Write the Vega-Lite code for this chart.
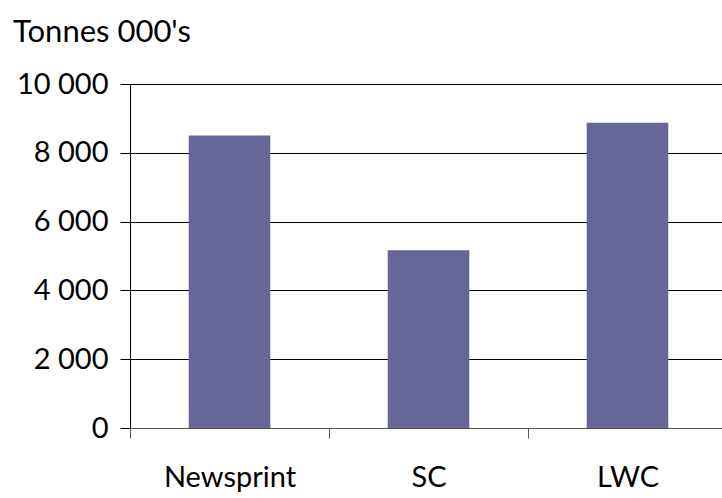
{
  "$schema": "https://vega.github.io/schema/vega-lite/v6.json",
  "autosize": {"type": "none"},
  "width": 592,
  "height": 344,
  "padding": {"left": 130, "top": 84, "right": 0, "bottom": 70},
  "background": "white",
  "title": {
    "text": "Tonnes 000's",
    "anchor": "start",
    "frame": "group",
    "dx": -117,
    "offset": 21,
    "font": "Lato",
    "fontSize": 31,
    "fontWeight": "normal",
    "color": "black"
  },
  "data": {
    "values": [
      {"grade": "Newsprint", "tonnes": 8500},
      {"grade": "SC", "tonnes": 5170},
      {"grade": "LWC", "tonnes": 8875}
    ]
  },
  "mark": {"type": "bar", "color": "#666699", "width": {"band": 0.41}},
  "encoding": {
    "x": {
      "field": "grade",
      "type": "nominal",
      "sort": null,
      "scale": {"range": [0, 597], "paddingInner": 0, "paddingOuter": 0},
      "axis": {
        "title": null,
        "labelAngle": 0,
        "labelFont": "Lato",
        "labelFontSize": 29,
        "labelColor": "black",
        "labelPadding": 25,
        "domainColor": "#555555",
        "domainWidth": 1,
        "tickColor": "#555555",
        "tickSize": 10,
        "tickBand": "extent",
        "grid": false
      }
    },
    "y": {
      "field": "tonnes",
      "type": "quantitative",
      "scale": {"domain": [0, 10000], "nice": false},
      "axis": {
        "title": null,
        "values": [0, 2000, 4000, 6000, 8000, 10000],
        "labelExpr": "replace(format(datum.value, ','), ',', ' ')",
        "labelFont": "Lato",
        "labelFontSize": 29,
        "labelColor": "black",
        "labelPadding": 12,
        "domainColor": "black",
        "tickColor": "black",
        "tickSize": 10,
        "gridColor": "black",
        "gridOpacity": 1,
        "gridWidth": 1
      }
    }
  },
  "config": {"view": {"stroke": null}}
}
